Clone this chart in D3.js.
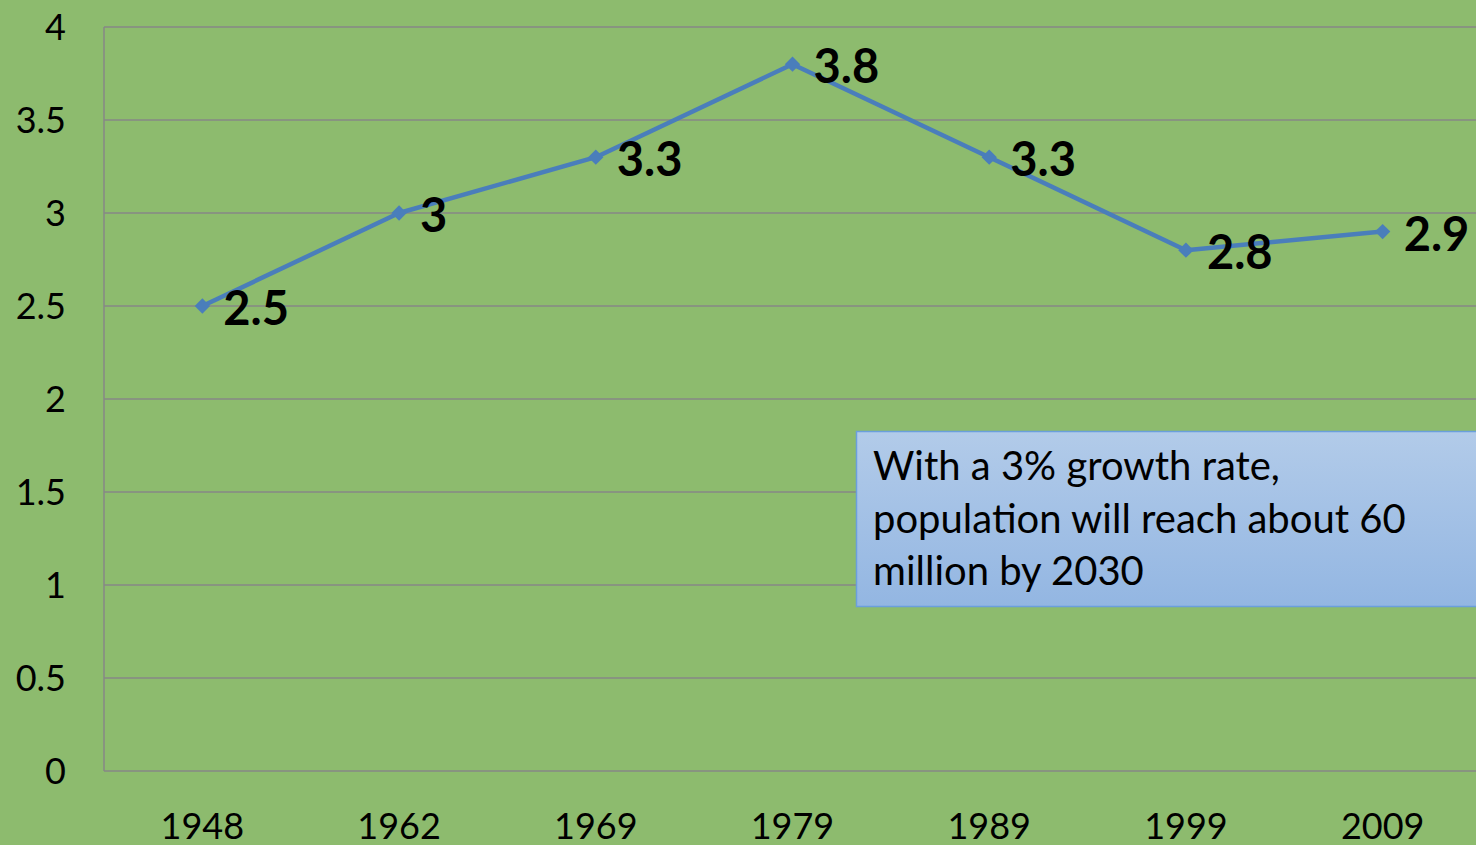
<!DOCTYPE html>
<html lang="en">
<head>
<meta charset="UTF-8">
<title>Growth rate</title>
<style>
    html, body { margin: 0; padding: 0; background: #8dbb6e; overflow: hidden; }
    text { font-family: Lato, "Open Sans", sans-serif; }
</style>
</head>
<body>
<svg id="chart" width="1476" height="845"></svg>
<script src="https://d3js.org/d3.v7.min.js"></script>
<script>
    const years = ["1948", "1962", "1969", "1979", "1989", "1999", "2009"];
    const rates = [2.5, 3, 3.3, 3.8, 3.3, 2.8, 2.9];
    const yTicks = [0, 0.5, 1, 1.5, 2, 2.5, 3, 3.5, 4];
    const noteLines = ["With a 3% growth rate,", "population will reach about 60", "million by 2030"];

    const svg = d3.select("#chart");
    const plotLeft = 104, plotTop = 27, plotBottom = 771, plotRight = 1481;

    const x = d3.scaleBand().domain(years).range([plotLeft, plotRight]);
    const y = d3.scaleLinear().domain([0, 4]).range([plotBottom, plotTop]);

    // grid
    svg.append("g").selectAll("line")
        .data(yTicks)
        .join("line")
        .attr("x1", plotLeft).attr("x2", plotRight)
        .attr("y1", d => y(d)).attr("y2", d => y(d))
        .attr("stroke", "#878787").attr("stroke-width", 1.5);

    svg.append("line")
        .attr("x1", plotLeft).attr("x2", plotLeft).attr("y1", plotTop).attr("y2", plotBottom)
        .attr("stroke", "#878787").attr("stroke-width", 1.5);

    // y labels
    svg.append("g").selectAll("text")
        .data(yTicks)
        .join("text")
        .attr("x", 66).attr("y", d => y(d) + 13)
        .attr("text-anchor", "end")
        .attr("font-size", 36)
        .text(d => d);

    // x labels
    svg.append("g").selectAll("text")
        .data(years)
        .join("text")
        .attr("x", d => x(d) + x.bandwidth() / 2).attr("y", 839)
        .attr("text-anchor", "middle")
        .attr("font-size", 36)
        .text(d => d);

    const cx = (d, i) => x(years[i]) + x.bandwidth() / 2;

    // line
    const line = d3.line().x((d, i) => cx(d, i)).y(d => y(d));
    svg.append("path")
        .datum(rates)
        .attr("d", line)
        .attr("fill", "none")
        .attr("stroke", "#4a7ebb")
        .attr("stroke-width", 4.5)
        .attr("stroke-linejoin", "round");

    svg.append("g").selectAll("path")
        .data(rates)
        .join("path")
        .attr("d", d3.symbol(d3.symbolDiamond2, 150))
        .attr("transform", (d, i) => "translate(" + cx(d, i) + "," + y(d) + ")")
        .attr("fill", "#4a7ebb");

    // data labels
    svg.append("g").selectAll("text")
        .data(rates)
        .join("text")
        .attr("x", (d, i) => cx(d, i) + 21)
        .attr("y", d => y(d) + 19)
        .attr("font-size", 47)
        .attr("font-weight", "bold")
        .text(d => d);

    // note box
    const defs = svg.append("defs");
    const grad = defs.append("linearGradient").attr("id", "boxgrad")
        .attr("x1", 0).attr("y1", 0).attr("x2", 0).attr("y2", 1);
    grad.append("stop").attr("offset", "0%").attr("stop-color", "#b2cbe9");
    grad.append("stop").attr("offset", "100%").attr("stop-color", "#93b6e2");

    svg.append("rect")
        .attr("x", 856.5).attr("y", 431.5)
        .attr("width", 640).attr("height", 175)
        .attr("fill", "url(#boxgrad)")
        .attr("stroke", "#6b9fdc").attr("stroke-width", 1.5);

    svg.append("g").selectAll("text")
        .data(noteLines)
        .join("text")
        .attr("x", 873)
        .attr("y", (d, i) => 480 + i * 52.5)
        .attr("font-size", 40)
        .attr("fill", "#000")
        .text(d => d);
</script>
</body>
</html>
